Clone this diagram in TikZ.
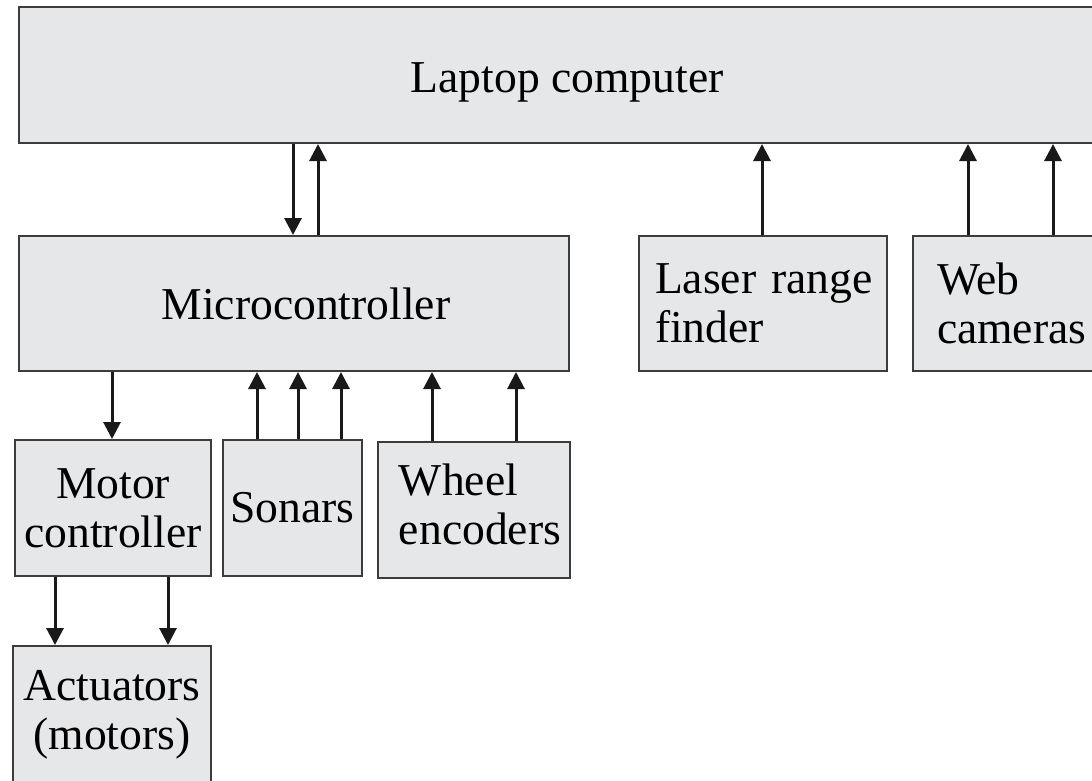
\documentclass[tikz,border=0pt]{standalone}
\usepackage{fontspec}
\setmainfont{Liberation Serif}
\usetikzlibrary{arrows.meta}
\definecolor{boxfill}{HTML}{E6E7E8}
\definecolor{boxline}{HTML}{3C3C3C}
\begin{document}
\begin{tikzpicture}[x=1pt,y=-1pt,
  blk/.style={draw=boxline,fill=boxfill,line width=2pt,inner sep=0pt,
    font=\fontsize{45.6}{49}\selectfont},
  arr/.style={line width=3pt,draw=black!90,-{Triangle[width=17pt,length=17pt]}}]
\useasboundingbox (0,0) rectangle (1092,781);
% boxes
\node[blk,minimum width=1096pt,minimum height=136pt,text depth=0pt,text height=36pt] (lap) at (567,75) {Laptop computer};
\node[blk,minimum width=550pt,minimum height=135pt] (mc) at (294,303.5) {\hspace{24pt}Microcontroller};
\node[blk,minimum width=248pt,minimum height=135pt,text width=240pt,align=left] (laser) at (763,303.5) {\hspace*{12pt}Laser range\\\hspace*{12pt}finder};
\node[blk,minimum width=210pt,minimum height=135pt,text width=162pt,align=left] (web) at (1018,303.5) {Web\\cameras};
\node[blk,minimum width=196pt,minimum height=136pt,align=center] (motor) at (113,508) {Motor\\controller};
\node[blk,minimum width=139pt,minimum height=136pt] (sonar) at (292.5,508) {Sonars};
\node[blk,minimum width=192pt,minimum height=136pt] (wheel) at (474,510) {\hspace*{12pt}\begin{tabular}{@{}l@{}}Wheel\\encoders\end{tabular}};
\node[blk,minimum width=198pt,minimum height=138pt,align=center] (act) at (112,715) {Actuators\\(motors)};
% x positions of connectors
\coordinate (x1) at (293,0);
\coordinate (x2) at (318,0);
\coordinate (x3) at (762,0);
\coordinate (x4) at (968,0);
\coordinate (x5) at (1053,0);
\coordinate (x6) at (112,0);
\coordinate (x7) at (257,0);
\coordinate (x8) at (298,0);
\coordinate (x9) at (341,0);
\coordinate (x10) at (432,0);
\coordinate (x11) at (516,0);
\coordinate (x12) at (55,0);
\coordinate (x13) at (168,0);
% connectors
\draw[arr] (lap.south -| x1) -- (mc.north -| x1);
\draw[arr] (mc.north -| x2) -- (lap.south -| x2);
\draw[arr] (laser.north -| x3) -- (lap.south -| x3);
\draw[arr] (web.north -| x4) -- (lap.south -| x4);
\draw[arr] (web.north -| x5) -- (lap.south -| x5);
\draw[arr] (mc.south -| x6) -- (motor.north -| x6);
\draw[arr] (sonar.north -| x7) -- (mc.south -| x7);
\draw[arr] (sonar.north -| x8) -- (mc.south -| x8);
\draw[arr] (sonar.north -| x9) -- (mc.south -| x9);
\draw[arr] (wheel.north -| x10) -- (mc.south -| x10);
\draw[arr] (wheel.north -| x11) -- (mc.south -| x11);
\draw[arr] (motor.south -| x12) -- (act.north -| x12);
\draw[arr] (motor.south -| x13) -- (act.north -| x13);
\end{tikzpicture}
\end{document}
